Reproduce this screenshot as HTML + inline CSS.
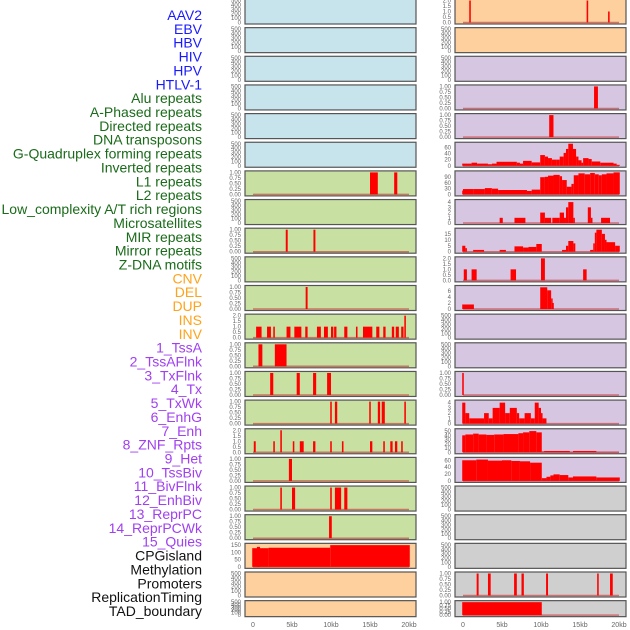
<!DOCTYPE html>
<html><head><meta charset="utf-8">
<style>
html,body{margin:0;padding:0;background:#fff;}
svg{display:block;font-family:"Liberation Sans",sans-serif;}
</style></head>
<body>
<svg id="chart" width="630" height="630" viewBox="0 0 630 630" xmlns="http://www.w3.org/2000/svg"></svg>
<script>
// ---- labels ----
const labelNames = ["AAV2","EBV","HBV","HIV","HPV","HTLV-1","Alu repeats","A-Phased repeats","Directed repeats","DNA transposons","G-Quadruplex forming repeats","Inverted repeats","L1 repeats","L2 repeats","Low_complexity A/T rich regions","Microsatellites","MIR repeats","Mirror repeats","Z-DNA motifs","CNV","DEL","DUP","INS","INV","1_TssA","2_TssAFlnk","3_TxFlnk","4_Tx","5_TxWk","6_EnhG","7_Enh","8_ZNF_Rpts","9_Het","10_TssBiv","11_BivFlnk","12_EnhBiv","13_ReprPC","14_ReprPCWk","15_Quies","CPGisland","Methylation","Promoters","ReplicationTiming","TAD_boundary"];
const labelGroupSizes = [6,13,5,15,5];
const labelGroupColors = ["#1a1aff","#1a6b1a","#ffa31a","#a040f0","#111111"];
const xTicks = [0,5,10,15,20];
const xTickLabels = ["0","5kb","10kb","15kb","20kb"];

const T1 = [0,0.25,0.5,0.75,1], T1L = ["0.00","0.25","0.50","0.75","1.00"];
const T2 = [0,0.5,1,1.5,2], T2L = ["0.0","0.5","1.0","1.5","2.0"];
const TE = [0,100,200,300,400,500], TEL = ["0","100","200","300","400","500"];

// ---- panel data (kb) ----
const L6_s=[15.0,18.1], L6_e=[16.0,18.5], L6_v=[1,1];
const L8_s=[4.2,7.75], L8_e=[4.45,8.0], L8_v=[1,1];
const L10_s=[6.75], L10_e=[7.0], L10_v=[1];
const L11_s=[0.4,1.8,2.6,4.3,5.3,6.7,8.2,9.1,10.0,10.4,11.7,13.2,14.1,15.8,16.7,17.8,18.3,19.0,19.4];
const L11_e=[1.1,2.3,2.8,4.8,6.2,7.0,8.7,9.6,10.3,10.7,12.1,13.4,15.3,16.2,17.0,18.1,18.7,19.3,19.6];
const L11_v=[1,1,1,1,1,1,1,1,1,1,1,1,1,1,1,1,1,1,2];
const L12_s=[0.7,2.8], L12_e=[1.2,4.3], L12_v=[1,1];
const L13_s=[2.2,5.6,7.7,9.5], L13_e=[2.6,6.0,8.1,10.0], L13_v=[1,1,1,1];
const L14_s=[9.9,10.5,14.9,16.0,16.5,19.4], L14_e=[10.1,10.8,15.1,16.3,16.9,19.6], L14_v=[1,1,1,1,1,1];
const L15_s=[0.1,2.6,3.5,5.1,6.0,7.7,9.9,11.4,15.0,16.7,17.6,18.2,19.0];
const L15_e=[0.35,2.8,3.7,5.3,6.5,8.0,10.1,11.6,15.3,16.9,17.9,18.5,19.2];
const L15_v=[1,1,2,1,1,1,1,1,1,1,1,1,1];
const L16_s=[4.6], L16_e=[5.0], L16_v=[1];
const L17_s=[3.5,5.0,9.9,10.5,11.7], L17_e=[3.7,5.4,10.1,11.3,12.1], L17_v=[1,1,1,1,1];
const L18_s=[9.75], L18_e=[10.1], L18_v=[1];
const L19_s=[-0.1,0.5,2.0,9.9], L19_e=[2.0,0.9,9.9,20.1], L19_v=[129,138,132,150];

const R0_s=[0.8,15.85,18.6], R0_e=[1.0,16.05,18.8], R0_v=[2,2,1];
const R3_s=[16.8], R3_e=[17.3], R3_v=[1];
const R4_s=[11.05], R4_e=[11.6], R4_v=[1];
const R5_edges=[-0.1,1.1,1.8,3.2,3.7,4.3,6.9,7.3,7.7,8.8,9.9,10.5,10.9,11.4,12.0,12.4,12.9,13.2,13.5,14.1,14.5,14.8,15.2,15.4,16.1,16.5,17.6,19.3,19.7,20.1];
const R5_vals=[7,10,7,5,7,13,10,7,16,11,35,30,25,20,20,30,42,55,72,55,30,18,10,25,22,14,10,7,3];
const R6_edges=[-0.1,0.0,1.3,2.8,3.7,4.5,8.2,8.8,9.9,10.5,10.9,11.6,12.4,12.7,13.3,13.9,14.2,14.8,15.6,16.3,16.9,17.4,17.8,18.4,19.3,20.1];
const R6_vals=[20,28,28,33,30,23,18,25,90,92,98,102,95,75,40,55,100,110,105,112,105,100,105,110,115];
const R7_s=[4.7,6.6,9.9,10.5,11.45,12.4,12.95,13.2,13.5,14.15,16.0,16.4,17.7];
const R7_e=[5.1,8.0,10.5,11.3,12.4,12.95,13.2,13.5,14.15,14.3,16.4,16.6,18.85];
const R7_v=[1,1,2,1,1,2,1,3,4,1,3,1,1];
const R8_s=[-0.1,0.3,1.3,4.7,6.6,7.7,8.4,9.4,12.7,13.2,13.5,14.15,16.3,16.7,16.9,17.1,17.8,18.2,18.4,19.5];
const R8_e=[0.3,0.5,2.7,5.5,7.7,8.4,9.4,10.1,13.2,13.5,14.15,14.4,16.7,16.9,17.1,17.8,18.2,18.4,19.5,20.1];
const R8_v=[5,3,1.5,1.5,4.5,3.5,4,6.5,1.5,5,9,7,1.5,7,16,18.5,15,10,8,5];
const R9_s=[0.1,1.1,6.1,10.0,15.4], R9_e=[0.5,1.75,6.8,10.5,15.85], R9_v=[1,1,1,2,1];
const R10_s=[-0.1,9.9,10.8,11.3,11.45], R10_e=[1.4,10.8,11.3,11.45,11.6], R10_v=[1.5,7.2,6.2,3.5,2];
const R13_s=[-0.1], R13_e=[0.1], R13_v=[1];
const R14_edges=[-0.1,0.3,0.8,2.7,3.3,3.8,4.7,5.4,6.0,6.9,7.2,7.9,8.7,9.2,9.7,10.0,10.2,10.7];
const R14_vals=[4,2,1,2,1,3,4,2,3,2,1,2,1,4,3,2,1];
const R15_edges=[-0.1,0.3,1.3,2.0,3.0,4.0,5.2,7.1,7.7,8.5,9.4,10.1,10.4,13.7,14.1,17.1,20.0];
const R15_vals=[40,42,44,42,41,42,43,45,47,50,47,2,3,1,3,1];
const R16_edges=[-0.1,1.7,3.2,5.0,6.2,7.3,8.6,10.1,10.7,11.2,11.6,12.4,13.5,14.1,17.1,20.1];
const R16_vals=[60,62,59,60,58,57,53,8,12,16,19,17,10,13,10];
const R20_s=[1.75,3.2,6.55,7.5,10.65,17.2,18.85], R20_e=[2.0,3.55,6.9,7.8,10.9,17.4,19.2], R20_v=[1,1,1,1,1,1,1];
const R21_s=[-0.1], R21_e=[10.1], R21_v=[1];

const BLUE="#c7e3ec", GREEN="#c8e1a3", ORANGE="#fdd09e", PURPLE="#d6c6e1", GRAY="#cfcfcf";

const svg = document.getElementById('chart');
const NS = "http://www.w3.org/2000/svg";
function mk(tag, attrs){ const el=document.createElementNS(NS,tag); for(const k in attrs) el.setAttribute(k,attrs[k]); svg.appendChild(el); return el; }

// labels
let gi=0, cnt=0;
labelNames.forEach((n,i)=>{
  while(cnt>=labelGroupSizes[gi]){cnt-=labelGroupSizes[gi];gi++;}
  const t=mk('text',{x:202,y:15+i*13.86+5,'text-anchor':'end','font-size':'14',fill:labelGroupColors[gi]});
  t.textContent=n;
  
  
  cnt++;
});

function edgesToSeg(edges, vals){ const s=[],e=[],v=[]; for(let i=0;i<vals.length;i++){s.push(edges[i]);e.push(edges[i+1]);v.push(vals[i]);} return {s,e,v}; }

function panel(col,row,bg,ymax,ticks,tickLabels,s,e,v,name){
  const x0 = col===0?245:455, x1 = x0+171;
  const top = -1+row*28.65, h = row<21?25:16, bot=top+h;
  const xs = k => (col===0?253:463) + k*7.8;
  const ys = val => (bot-1.5) - val/ymax*(h-3);
  const r=mk('rect',{x:x0,y:top,width:x1-x0,height:h,fill:bg,stroke:'#555',"stroke-width":1.2});
  
  
  ticks.forEach((tk,i)=>{
    const t=mk('text',{x:x0-4,y:ys(tk)+2,'text-anchor':'end','font-size':'6',fill:'#666'});
    t.textContent=tickLabels[i];
    
    
  });
  if(s && s.length){
    const bl=mk('line',{x1:xs(0),x2:xs(20),y1:ys(0),y2:ys(0),stroke:'rgba(200,50,50,0.6)','stroke-width':1.5});
    
    
    for(let i=0;i<s.length;i++){
      const a=xs(s[i]), b=xs(e[i]);
      const w=Math.max(b-a,1.5);
      const bar=mk('rect',{x:a,y:ys(v[i]),width:w,height:ys(0)-ys(v[i]),fill:'#ff0000'});
      
      
    }
  }
}

// left column
for(let r=0;r<6;r++) panel(0,r,BLUE,500,TE,TEL,null,null,null,'left-row'+r);
panel(0,6,GREEN,1,T1,T1L,L6_s,L6_e,L6_v,'left-row6');
panel(0,7,GREEN,500,TE,TEL,null,null,null,'left-row7');
panel(0,8,GREEN,1,T1,T1L,L8_s,L8_e,L8_v,'left-row8');
panel(0,9,GREEN,500,TE,TEL,null,null,null,'left-row9');
panel(0,10,GREEN,1,T1,T1L,L10_s,L10_e,L10_v,'left-row10');
panel(0,11,GREEN,2,T2,T2L,L11_s,L11_e,L11_v,'left-row11');
panel(0,12,GREEN,1,T1,T1L,L12_s,L12_e,L12_v,'left-row12');
panel(0,13,GREEN,1,T1,T1L,L13_s,L13_e,L13_v,'left-row13');
panel(0,14,GREEN,1,T1,T1L,L14_s,L14_e,L14_v,'left-row14');
panel(0,15,GREEN,2,T2,T2L,L15_s,L15_e,L15_v,'left-row15');
panel(0,16,GREEN,1,T1,T1L,L16_s,L16_e,L16_v,'left-row16');
panel(0,17,GREEN,1,T1,T1L,L17_s,L17_e,L17_v,'left-row17');
panel(0,18,GREEN,1,T1,T1L,L18_s,L18_e,L18_v,'left-row18');
panel(0,19,ORANGE,152,[0,50,100,150],["0","50","100","150"],L19_s,L19_e,L19_v,'left-row19');
panel(0,20,ORANGE,500,TE,TEL,null,null,null,'left-row20');
panel(0,21,ORANGE,500,TE,TEL,null,null,null,'left-row21');

// right column
panel(1,0,ORANGE,2,T2,T2L,R0_s,R0_e,R0_v,'right-row0');
panel(1,1,ORANGE,500,TE,TEL,null,null,null,'right-row1');
panel(1,2,PURPLE,500,TE,TEL,null,null,null,'right-row2');
panel(1,3,PURPLE,1,T1,T1L,R3_s,R3_e,R3_v,'right-row3');
panel(1,4,PURPLE,1,T1,T1L,R4_s,R4_e,R4_v,'right-row4');
let sg=edgesToSeg(R5_edges,R5_vals); panel(1,5,PURPLE,72,[0,20,40,60],["0","20","40","60"],sg.s,sg.e,sg.v,'right-row5');
sg=edgesToSeg(R6_edges,R6_vals); panel(1,6,PURPLE,115,[0,30,60,90],["0","30","60","90"],sg.s,sg.e,sg.v,'right-row6');
panel(1,7,PURPLE,4.2,[0,1,2,3,4],["0","1","2","3","4"],R7_s,R7_e,R7_v,'right-row7');
panel(1,8,PURPLE,18.5,[0,5,10,15],["0","5","10","15"],R8_s,R8_e,R8_v,'right-row8');
panel(1,9,PURPLE,2,T2,T2L,R9_s,R9_e,R9_v,'right-row9');
panel(1,10,PURPLE,7.3,[0,2,4,6],["0","2","4","6"],R10_s,R10_e,R10_v,'right-row10');
panel(1,11,PURPLE,500,TE,TEL,null,null,null,'right-row11');
panel(1,12,PURPLE,500,TE,TEL,null,null,null,'right-row12');
panel(1,13,PURPLE,1,T1,T1L,R13_s,R13_e,R13_v,'right-row13');
sg=edgesToSeg(R14_edges,R14_vals); panel(1,14,PURPLE,4.2,[0,1,2,3,4],["0","1","2","3","4"],sg.s,sg.e,sg.v,'right-row14');
sg=edgesToSeg(R15_edges,R15_vals); panel(1,15,PURPLE,52,[0,10,20,30,40,50],["0","10","20","30","40","50"],sg.s,sg.e,sg.v,'right-row15');
sg=edgesToSeg(R16_edges,R16_vals); panel(1,16,PURPLE,64,[0,20,40,60],["0","20","40","60"],sg.s,sg.e,sg.v,'right-row16');
for(let r=17;r<20;r++) panel(1,r,GRAY,500,TE,TEL,null,null,null,'right-row'+r);
panel(1,20,GRAY,1,T1,T1L,R20_s,R20_e,R20_v,'right-row20');
panel(1,21,GRAY,1,T1,T1L,R21_s,R21_e,R21_v,'right-row21');

// x axes
[0,1].forEach(col=>{
  xTicks.forEach((k,i)=>{
    const t=mk('text',{x:(col===0?253:463)+k*7.8,y:627,'text-anchor':'middle','font-size':'7',fill:'#666'});
    t.textContent=xTickLabels[i];
    
    
  });
});
</script>
</body></html>
